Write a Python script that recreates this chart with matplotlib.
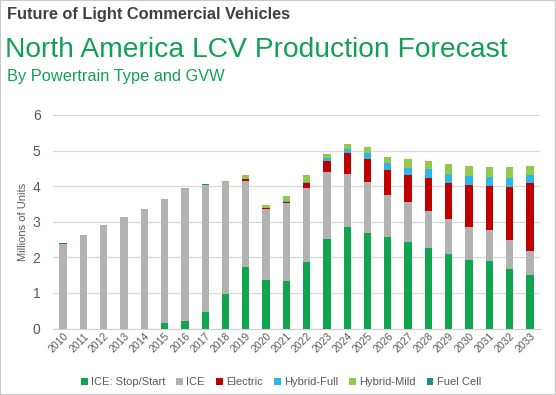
import matplotlib
matplotlib.use("Agg")
import matplotlib.pyplot as plt
import numpy as np
from matplotlib.patches import Rectangle

plt.rcParams['font.family'] = ['Liberation Sans', 'DejaVu Sans']

years = [str(y) for y in range(2010, 2034)]
ice_ss = [0, 0, 0, 0, 0, 0.16, 0.21, 0.47, 0.98, 1.72, 1.36, 1.33, 1.86, 2.51, 2.86, 2.69, 2.57, 2.43, 2.25, 2.10, 1.92, 1.90, 1.66, 1.49]
ice = [2.37, 2.64, 2.90, 3.13, 3.36, 3.47, 3.73, 3.57, 3.14, 2.42, 2.01, 2.21, 2.10, 1.89, 1.48, 1.43, 1.18, 1.13, 1.06, 0.98, 0.94, 0.88, 0.82, 0.68]
electric = [0, 0, 0, 0, 0, 0, 0, 0, 0, 0.05, 0.01, 0.01, 0.12, 0.30, 0.58, 0.64, 0.70, 0.75, 0.93, 1.00, 1.17, 1.23, 1.50, 1.91]
hybrid_full = [0, 0, 0, 0, 0, 0, 0, 0, 0, 0.01, 0.01, 0.02, 0.04, 0.08, 0.12, 0.16, 0.21, 0.21, 0.23, 0.26, 0.26, 0.25, 0.26, 0.23]
hybrid_mild = [0, 0, 0, 0, 0, 0, 0, 0, 0.02, 0.11, 0.09, 0.15, 0.19, 0.12, 0.14, 0.17, 0.15, 0.25, 0.23, 0.28, 0.28, 0.29, 0.29, 0.26]
fuel_cell = [0.02, 0, 0.02, 0, 0, 0, 0, 0.03, 0, 0, 0, 0, 0, 0, 0, 0, 0, 0, 0, 0, 0, 0, 0, 0]

series = [
    ("ICE: Stop/Start", ice_ss, "#12a550"),
    ("ICE", ice, "#b2b2b2"),
    ("Electric", electric, "#c00000"),
    ("Hybrid-Full", hybrid_full, "#2eb6e8"),
    ("Hybrid-Mild", hybrid_mild, "#92c94a"),
    ("Fuel Cell", fuel_cell, "#1d8a8a"),
]

W, H = 556, 395
fig = plt.figure(figsize=(W / 100, H / 100), dpi=100)
fig.patch.set_facecolor("white")
fig.add_artist(Rectangle((0, 0), 1, 1, transform=fig.transFigure, fill=False,
                         edgecolor="#c8c8c8", linewidth=1.5))

fig.text(7 / W, 1 - 14 / H, "Future of Light Commercial Vehicles", fontsize=11.8, fontweight="bold",
         color="#404040", va="center", ha="left")
fig.text(5 / W, 1 - 50 / H, "North America LCV Production Forecast", fontsize=20.3,
         color="#13a055", va="center", ha="left")
fig.text(7 / W, 1 - 77 / H, "By Powertrain Type and GVW", fontsize=11.8,
         color="#13a055", va="center", ha="left")

left, right, top, bottom = 53, 540, 115, 328.5
ax = fig.add_axes([left / W, 1 - bottom / H, (right - left) / W, (bottom - top) / H])
x = np.arange(len(years))
base = np.zeros(len(years))
for name, vals, col in series:
    v = np.array(vals)
    ax.bar(x, v, 0.36, bottom=base, color=col, label=name, zorder=3)
    base += v

ax.set_xlim(-0.5, len(years) - 0.5)
ax.set_ylim(0, 6)
ax.set_yticks(range(0, 7))
ax.yaxis.grid(True, color="#d9d9d9", linewidth=0.9, zorder=0)
for s in ["top", "right", "left"]:
    ax.spines[s].set_visible(False)
ax.spines["bottom"].set_color("#d0d0d0")
ax.tick_params(axis="y", length=0, labelsize=10, labelcolor="#595959", pad=9)
ax.tick_params(axis="x", length=0, labelsize=7.5, labelcolor="#595959", pad=2)
ax.set_xticks(x)
ax.set_xticklabels(years, rotation=45, ha="right", rotation_mode="anchor")
ax.set_ylabel("Millions of Units", fontsize=8, color="#595959", labelpad=3)

handles, labels = ax.get_legend_handles_labels()
fig.legend(handles, labels, loc="center", bbox_to_anchor=(281 / W, 1 - 382 / H), ncol=6,
           frameon=False, fontsize=8, handlelength=0.6, handleheight=0.6,
           handletextpad=0.3, columnspacing=1.0, labelcolor="#595959")

fig.savefig("out.png", dpi=100, facecolor="white")
